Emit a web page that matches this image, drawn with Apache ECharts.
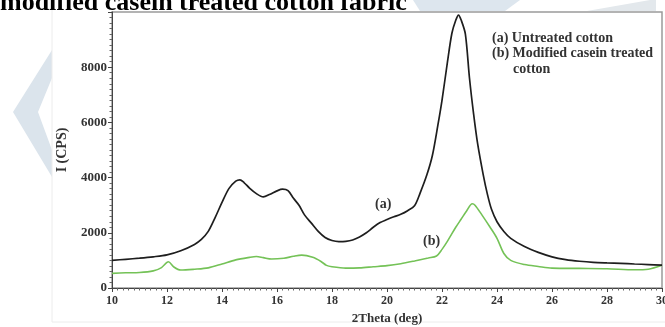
<!DOCTYPE html>
<html>
<head>
<meta charset="utf-8">
<script src="https://cdn.jsdelivr.net/npm/echarts@6/dist/echarts.min.js"></script>
<style>
html,body{margin:0;padding:0;background:#fff;}
#chart{width:665px;height:327px;}
</style>
</head>
<body>
<div id="chart"></div>
<script>
// Curve (a): untreated cotton
var thetaA = [10,10.5,11,11.5,12,12.5,13,13.25,13.5,13.75,14,14.25,14.5,14.65,14.8,15,15.25,15.5,15.75,16,16.2,16.4,16.6,16.8,17,17.25,17.5,17.75,18,18.25,18.5,18.75,19,19.25,19.5,19.75,20,20.25,20.5,20.75,21,21.2,21.45,21.65,21.85,22,22.2,22.36,22.5,22.6,22.7,22.85,23,23.15,23.3,23.5,23.65,23.8,24,24.25,24.5,25,25.5,26,26.5,27,27.5,28,28.5,29,29.5,30];
var intensityA = [1000,1040,1080,1130,1200,1350,1580,1760,2050,2550,3100,3600,3870,3920,3820,3620,3420,3300,3400,3520,3580,3530,3250,3000,2650,2350,2050,1830,1720,1680,1690,1740,1850,2000,2200,2370,2480,2580,2670,2800,2980,3430,4100,4800,5900,6800,8200,9230,9700,9890,9700,9200,7600,6300,5200,4100,3400,2850,2400,2050,1800,1500,1290,1130,1030,970,930,910,895,870,850,830];
// Curve (b): modified casein treated cotton
var thetaB = [10,10.5,11,11.5,11.8,12.05,12.25,12.5,13,13.5,14,14.5,15,15.25,15.5,15.8,16.25,16.6,16.9,17.3,17.6,17.8,18,18.5,19,19.5,20,20.5,21,21.5,21.8,22,22.2,22.5,22.7,22.9,23.1,23.2,23.45,23.75,24,24.25,24.5,25,25.5,26,27,28,29,29.5,30];
var intensityB = [530,550,560,620,740,950,760,650,680,730,870,1020,1110,1140,1100,1050,1080,1150,1190,1110,960,820,770,720,730,770,810,880,980,1090,1160,1400,1700,2200,2500,2800,3050,3000,2650,2200,1800,1250,1000,850,780,720,710,700,660,680,820];
var yTicks = [0,2000,4000,6000,8000];
var xTickLabels = ['10','12','14','16','18','20','22','24','26','28','30'];
var titleText = 'modified casein treated cotton fabric';
var legendLines = ['(a) Untreated cotton', '(b) Modified casein treated', 'cotton'];

function pairs(xs, ys){ return xs.map(function(x,i){ return [x, ys[i]]; }); }

var serif = 'Liberation Serif';

var chart = echarts.init(document.getElementById('chart'));
chart.setOption({
  animation: false,
  backgroundColor: '#fff',
  grid: {left: 112, right: 3, top: 12, bottom: 39, show: true, outerBoundsMode: 'none', containLabel: false,
         borderColor: '#9a9a9a', borderWidth: 1.5, backgroundColor: 'rgba(0,0,0,0)'},
  xAxis: {
    type: 'value', min: 10, max: 30, interval: 2,
    name: '2Theta (deg)', nameLocation: 'middle', nameGap: 22,
    nameTextStyle: {fontFamily: serif, fontWeight: 'bold', fontSize: 13, color: '#333'},
    axisLine: {lineStyle: {color: '#444', width: 1}},
    axisTick: {length: 4, lineStyle: {color: '#444'}},
    minorTick: {show: true, splitNumber: 10, length: 2.5, lineStyle: {color: '#666'}},
    splitLine: {show: false},
    axisLabel: {margin: 7, fontFamily: serif, fontWeight: 'bold', fontSize: 12, color: '#333',
      formatter: function(v){ var s = String(v); return xTickLabels.indexOf(s) >= 0 ? s : ''; }}
  },
  yAxis: {
    type: 'value', min: 0, max: 10000, interval: 2000,
    name: 'I (CPS)', nameLocation: 'middle', nameGap: 43, nameRotate: 90,
    nameTextStyle: {fontFamily: serif, fontWeight: 'bold', fontSize: 14, color: '#333'},
    axisLine: {show: true, lineStyle: {color: '#444', width: 1}},
    axisTick: {show: true, length: 4, lineStyle: {color: '#444'}},
    minorTick: {show: true, splitNumber: 10, length: 2.5, lineStyle: {color: '#666'}},
    splitLine: {show: false},
    axisLabel: {margin: 5, fontFamily: serif, fontWeight: 'bold', fontSize: 13, color: '#333',
      formatter: function(v){ return yTicks.indexOf(v) >= 0 ? String(v) : ''; }}
  },
  series: [
    {type: 'line', data: pairs(thetaA, intensityA), showSymbol: false, smooth: 0.3,
     lineStyle: {color: '#1e1e1e', width: 1.7}, z: 3},
    {type: 'line', data: pairs(thetaB, intensityB), showSymbol: false, smooth: 0.3,
     lineStyle: {color: '#74c257', width: 1.6}, z: 2}
  ],
  graphic: [
    {type: 'polygon', silent: true, z: -10,
     shape: {points: [[52,50],[13,112],[52,177],[52,150],[38,112],[52,78]]},
     style: {fill: '#dbe4ec'}},
    {type: 'polygon', silent: true, z: -10,
     shape: {points: [[413,0],[520,0],[505,11],[420,11]]},
     style: {fill: '#dde6ee'}},
    {type: 'polygon', silent: true, z: -10,
     shape: {points: [[587,11],[650,0],[656,0],[656,11]]},
     style: {fill: '#e3e8ec'}},
    {type: 'polyline', silent: true, z: -9,
     shape: {points: [[52,0],[52,322],[665,322]]},
     style: {stroke: '#ececec', lineWidth: 1, fill: null}},
    {type: 'text', left: 0, top: -10, z: 10,
     style: {text: titleText, font: 'bold 26px "Liberation Serif"', fill: '#000'}},
    {type: 'text', left: 492, top: 31, z: 10,
     style: {text: legendLines[0], font: 'bold 14px "Liberation Serif"', fill: '#333'}},
    {type: 'text', left: 492, top: 46, z: 10,
     style: {text: legendLines[1], font: 'bold 14px "Liberation Serif"', fill: '#333'}},
    {type: 'text', left: 513, top: 62, z: 10,
     style: {text: legendLines[2], font: 'bold 14px "Liberation Serif"', fill: '#333'}},
    {type: 'text', left: 375, top: 197, z: 10,
     style: {text: '(a)', font: 'bold 14px "Liberation Serif"', fill: '#333'}},
    {type: 'text', left: 423, top: 234, z: 10,
     style: {text: '(b)', font: 'bold 14px "Liberation Serif"', fill: '#333'}}
  ]
});
</script>
</body>
</html>
